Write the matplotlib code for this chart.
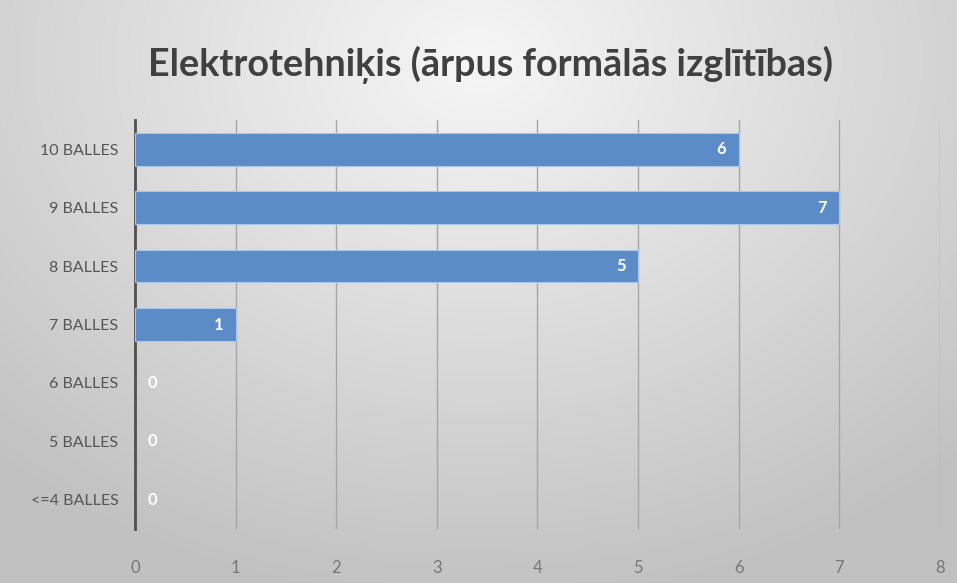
import numpy as np
import matplotlib
matplotlib.use('Agg')
import matplotlib.pyplot as plt

# Data (bottom to top as drawn)
categories = ['<=4 BALLES', '5 BALLES', '6 BALLES', '7 BALLES', '8 BALLES', '9 BALLES', '10 BALLES']
counts = [0, 0, 0, 1, 5, 7, 6]
x_ticks = [0, 1, 2, 3, 4, 5, 6, 7, 8]
title = 'Elektrotehniķis (ārpus formālās izglītības)'

plt.rcParams['font.family'] = ['Lato', 'DejaVu Sans']

fig = plt.figure(figsize=(9.57, 5.83), dpi=100)

# Gray radial gradient background
bg = fig.add_axes([0, 0, 1, 1], zorder=-10)
yy, xx = np.mgrid[0:583, 0:957]
r = np.sqrt(((xx - 478) / 650.0) ** 2 + ((yy - 60) / 500.0) ** 2)
shade = np.clip(0.965 - 0.19 * r, 0.76, 0.965)
bg.imshow(np.dstack([shade] * 3), aspect='auto', extent=[0, 1, 0, 1])
bg.axis('off')

ax = fig.add_axes([0.141, 0.0926, 0.841, 0.7014])
ax.patch.set_alpha(0)
y_pos = np.arange(len(categories))
ax.barh(y_pos, counts, height=0.56, color='#5b8cc8', edgecolor='#a9c6e8',
        linewidth=[0.8 if v > 0 else 0 for v in counts], zorder=3)

for y, v in zip(y_pos, counts):
    x = v - 0.17 if v > 0 else 0.17
    ax.text(x, y, str(v), color='white', fontsize=12, fontweight='bold',
            ha='center', va='center', zorder=4)

ax.set_xlim(0, 8)
ax.set_ylim(-0.5, len(categories) - 0.5)
ax.set_xticks(x_ticks)
ax.set_yticks(y_pos)
ax.set_yticklabels(categories)
ax.tick_params(axis='y', length=0, pad=12, labelsize=11.5, labelcolor='#555555')
ax.tick_params(axis='x', length=0, pad=22, labelsize=12, labelcolor='#777777')
ax.grid(axis='x', color='#a6a6a6', linewidth=1.0, zorder=0)
for side in ['top', 'right', 'bottom']:
    ax.spines[side].set_visible(False)
ax.spines['left'].set_color('#505050')
ax.spines['left'].set_linewidth(2)

fig.text(0.513, 0.888, title, ha='center', va='center', fontsize=27.2,
         fontweight='bold', color='#404040')

fig.savefig('out.png', dpi=100)
